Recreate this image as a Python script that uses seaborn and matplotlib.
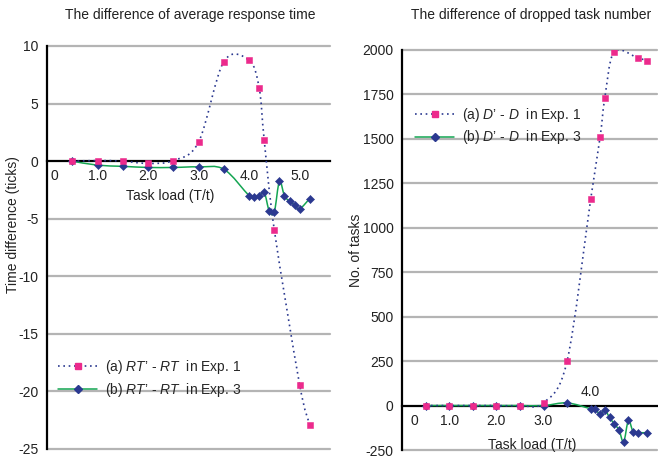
import matplotlib
matplotlib.use("Agg")
import matplotlib.pyplot as plt
import numpy as np
import seaborn as sns
from matplotlib.lines import Line2D
from matplotlib.patches import PathPatch
from matplotlib.path import Path
from matplotlib.transforms import ScaledTranslation

# left panel: difference of average response time (ticks)
rt_load_a = [0.5, 1.0, 1.5, 2.0, 2.5, 3.0, 3.5, 4.0, 4.2, 4.3, 4.5, 5.0, 5.2]
rt_diff_a = [0.0, 0.05, 0.0, -0.2, 0.05, 1.65, 8.65, 8.75, 6.35, 1.8, -6.0, -19.4, -22.9]
rt_load_b = [0.5, 1.0, 1.5, 2.0, 2.5, 3.0, 3.5, 4.0, 4.1, 4.2, 4.3, 4.4, 4.5,
             4.6, 4.7, 4.8, 4.9, 5.0, 5.2]
rt_diff_b = [0.0, -0.35, -0.45, -0.55, -0.55, -0.5, -0.7, -3.0, -3.15, -3.05,
             -2.7, -4.35, -4.4, -1.75, -3.0, -3.5, -3.8, -4.15, -3.25]

# right panel: difference of dropped task number
dt_load_a = [0.5, 1.0, 1.5, 2.0, 2.5, 3.0, 3.5, 4.0, 4.2, 4.3, 4.5, 5.0, 5.2]
dt_diff_a = [0, 0, 0, 0, 0, 15, 250, 1160, 1510, 1730, 1990, 1955, 1940]
dt_load_b = [0.5, 1.0, 1.5, 2.0, 2.5, 3.0, 3.5, 4.0, 4.1, 4.2, 4.3, 4.4, 4.5,
             4.6, 4.7, 4.8, 4.9, 5.0, 5.2]
dt_diff_b = [0, 0, 0, 0, 0, 0, 15, -18, -20, -50, -26, -67, -103, -137, -204,
             -84, -148, -152, -153]

rt_yticks = [10, 5, 0, -5, -10, -15, -20, -25]
dt_yticks = [2000, 1750, 1500, 1250, 1000, 750, 500, 250, 0, -250]
x_ticks = [0, 1, 2, 3, 4, 5]
x_tick_labels = ["0", "1.0", "2.0", "3.0", "4.0", "5.0"]

PINK = "#EC2A8C"
NAVY = "#2B3990"
GREEN = "#14A552"
GRID = "#B4B4B4"

sns.set_style("white")
plt.rcParams["font.family"] = ["Liberation Sans", "DejaVu Sans"]
plt.rcParams["mathtext.fontset"] = "custom"
plt.rcParams["mathtext.it"] = "Liberation Sans:italic"
plt.rcParams["mathtext.rm"] = "Liberation Sans"
plt.rcParams["font.size"] = 10


def smooth_path(xs, ys):
    # bezier segments through the points, like a spreadsheet "smoothed line"
    pts = np.column_stack([xs, ys]).astype(float)
    n = len(pts)
    verts = [pts[0]]
    codes = [Path.MOVETO]
    for i in range(n - 1):
        p0 = pts[max(i - 1, 0)]
        p1 = pts[i]
        p2 = pts[i + 1]
        p3 = pts[min(i + 2, n - 1)]
        verts += [p1 + (p2 - p0) / 6, p2 - (p3 - p1) / 6, p2]
        codes += [Path.CURVE4] * 3
    return Path(verts, codes)


def draw_series(ax, load_a, diff_a, load_b, diff_b):
    ax.add_patch(PathPatch(smooth_path(load_b, diff_b), facecolor="none",
                           edgecolor=GREEN, lw=1.1, zorder=3))
    ax.add_patch(PathPatch(smooth_path(load_a, diff_a), facecolor="none",
                           edgecolor=NAVY, lw=1.2, linestyle=(0, (1, 2.2)), zorder=3))
    sns.scatterplot(x=load_b, y=diff_b, ax=ax, marker="D", s=17, color=NAVY,
                    edgecolor=NAVY, linewidth=0.4, zorder=4)
    sns.scatterplot(x=load_a, y=diff_a, ax=ax, marker="s", s=15, color=PINK,
                    edgecolor=PINK, linewidth=0.4, zorder=5)


def style_axes(ax, yticks, xmax):
    ax.set_xlim(0, xmax)
    ax.set_ylim(min(yticks), max(yticks))
    ax.set_yticks(yticks)
    ax.set_yticklabels([str(v) for v in yticks])
    ax.set_xticks(x_ticks)
    ax.set_xticklabels(x_tick_labels)
    for v in yticks:
        if v != 0:
            ax.axhline(v, color=GRID, lw=1.6, zorder=0, clip_on=False)
    ax.spines["top"].set_visible(False)
    ax.spines["right"].set_visible(False)
    ax.spines["bottom"].set_position(("data", 0))
    for side in ("left", "bottom"):
        ax.spines[side].set_color("black")
        ax.spines[side].set_linewidth(1.6)
        ax.spines[side].set_zorder(2)
    ax.tick_params(axis="y", length=0, pad=6, labelsize=10, colors="#222222")
    ax.tick_params(axis="x", direction="in", length=4, width=0.8, pad=6,
                   labelsize=10, colors="#222222")
    ax.set_facecolor("none")
    # "0" sits to the right of the vertical axis
    first = ax.get_xticklabels()[0]
    first.set_horizontalalignment("left")
    first.set_transform(first.get_transform() + ScaledTranslation(4 / 100, 0, ax.figure.dpi_scale_trans))


fig = plt.figure(figsize=(6.58, 4.59), dpi=100)
ax1 = fig.add_axes([0.0714, 0.0218, 0.430, 0.878])
ax2 = fig.add_axes([0.611, 0.0196, 0.387, 0.8715])

draw_series(ax1, rt_load_a, rt_diff_a, rt_load_b, rt_diff_b)
draw_series(ax2, dt_load_a, dt_diff_a, dt_load_b, dt_diff_b)

style_axes(ax1, rt_yticks, 5.6)
style_axes(ax2, dt_yticks, 5.4)

# right panel: 4.0 label drawn above the axis, 5.0 hidden
ax2.set_xticklabels(["0", "1.0", "2.0", "3.0", "", ""])
first = ax2.get_xticklabels()[0]
first.set_horizontalalignment("left")
first.set_transform(first.get_transform() + ScaledTranslation(4 / 100, 0, fig.dpi_scale_trans))
ax2.annotate("4.0", xy=(4.0, 0), xytext=(0, 5), textcoords="offset points",
             ha="center", va="bottom", fontsize=10, color="#222222")

ax1.set_xlabel("Task load (T/t)", fontsize=10, color="#222222")
ax1.xaxis.set_label_coords(0.435, 0.645)
ax1.set_ylabel("Time difference (ticks)", fontsize=10, color="#222222")
ax1.yaxis.set_label_coords(-0.095, 0.556)

ax2.set_xlabel("Task load (T/t)", fontsize=10, color="#222222")
ax2.xaxis.set_label_coords(0.51, 0.03)
ax2.set_ylabel("No. of tasks", fontsize=10, color="#222222")
ax2.yaxis.set_label_coords(-0.152, 0.5)

fig.text(0.289, 0.967, "The difference of average response time", ha="center",
         va="center", fontsize=10, color="#222222")
fig.text(0.807, 0.967, "The difference of dropped task number", ha="center",
         va="center", fontsize=10, color="#222222")


def legend_handles():
    h_a = Line2D([], [], color=NAVY, lw=1.2, linestyle=(0, (1, 2.2)), marker="s",
                 markersize=4, markerfacecolor=PINK, markeredgecolor=PINK)
    h_b = Line2D([], [], color=GREEN, lw=1.1, marker="D", markersize=3.8,
                 markerfacecolor=NAVY, markeredgecolor=NAVY)
    return [h_a, h_b]


ax1.legend(legend_handles(),
           ["(a) $RT$’ - $RT$  in Exp. 1", "(b) $RT$’ - $RT$  in Exp. 3"],
           loc="upper left", bbox_to_anchor=(0.02, 0.24), frameon=False,
           handlelength=2.8, handletextpad=0.6, labelspacing=0.35,
           borderaxespad=0, fontsize=10, numpoints=1)
ax2.legend(legend_handles(),
           ["(a) $D$’ - $D$  in Exp. 1", "(b) $D$’ - $D$  in Exp. 3"],
           loc="upper left", bbox_to_anchor=(0.03, 0.875), frameon=False,
           handlelength=2.8, handletextpad=0.6, labelspacing=0.35,
           borderaxespad=0, fontsize=10, numpoints=1)

fig.savefig("out.png", dpi=100)
plt.close(fig)
